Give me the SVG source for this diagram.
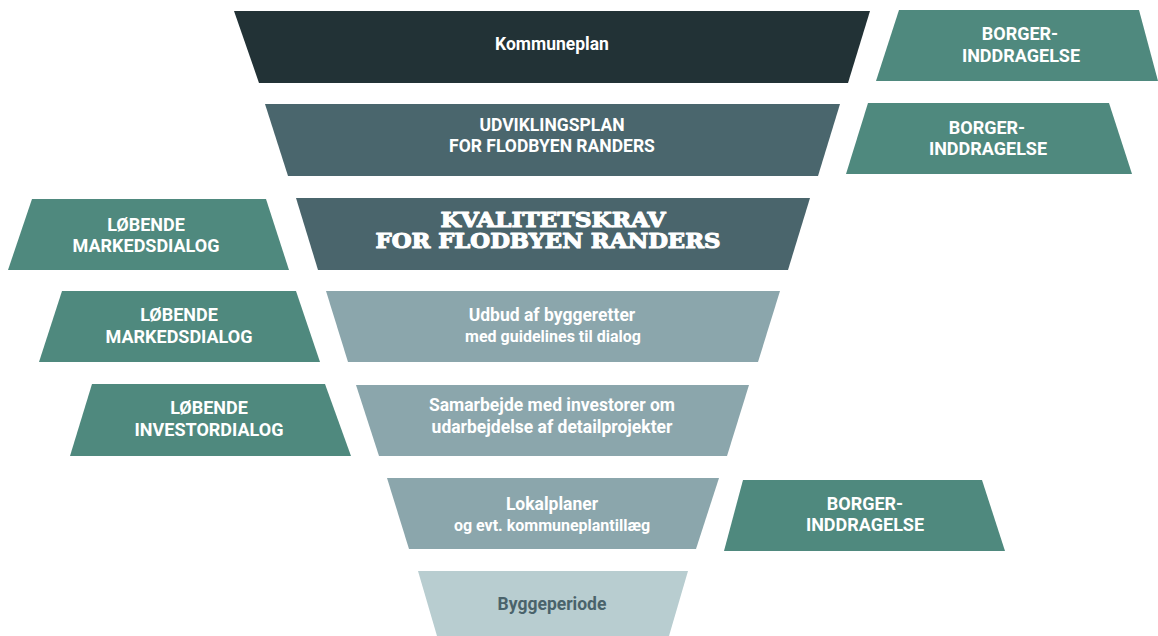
<svg xmlns="http://www.w3.org/2000/svg" width="1158" height="636" viewBox="0 0 1158 636">
<style>
.t{font-family:Roboto,"Liberation Sans",sans-serif;font-weight:bold;fill:#fff;text-anchor:middle;font-size:17.5px}
.s{font-size:16px}
.gl{font-size:18px}
.slab{font-family:"DejaVu Serif","Liberation Serif",serif;font-weight:bold;fill:#fff;stroke:#fff;stroke-width:1.1px;stroke-linejoin:round;text-anchor:middle;font-size:19.5px}
.g{fill:#4f897e}
.m{fill:#8ba6ac}
</style>
<rect width="1158" height="636" fill="#fff"/>
<g id="kommuneplan"><polygon points="234,11 870,11 848,83 259,83" fill="#223236"/><text class="t" x="552" y="50">Kommuneplan</text></g>
<g id="udviklingsplan"><polygon points="265,104 840,104 818,176 288,176" fill="#4a666d"/><text class="t" x="552" y="131">UDVIKLINGSPLAN</text><text class="t" x="552" y="152">FOR FLODBYEN RANDERS</text></g>
<g id="kvalitetskrav"><polygon points="296,198 810,198 788,270 318,270" fill="#4a656c"/><text class="slab" x="553" y="227" textLength="225" lengthAdjust="spacingAndGlyphs">KVALITETSKRAV</text><text class="slab" x="548" y="248" textLength="345" lengthAdjust="spacingAndGlyphs">FOR FLODBYEN RANDERS</text></g>
<g id="udbud"><polygon points="326,291 780,291 758,362 348,362" class="m"/><text class="t" x="552" y="321">Udbud af byggeretter</text><text class="t s" x="553" y="342">med guidelines til dialog</text></g>
<g id="samarbejde"><polygon points="356,385 749,385 727,456 379,456" class="m"/><text class="t" x="552" y="411">Samarbejde med investorer om</text><text class="t" x="552" y="433">udarbejdelse af detailprojekter</text></g>
<g id="lokalplaner"><polygon points="387,478 719,478 696,549 409,549" class="m"/><text class="t" x="552" y="510">Lokalplaner</text><text class="t s" x="552" y="531">og evt. kommuneplantillæg</text></g>
<g id="byggeperiode"><polygon points="418,571 688,571 669,636 437,636" fill="#b8cdd0"/><text class="t" x="552" y="610" style="fill:#4a636b">Byggeperiode</text></g>
<g id="borger1"><polygon points="899,10 1139,10 1158,81 876,81" class="g"/><text class="t gl" x="1020" y="40">BORGER-</text><text class="t gl" x="1021" y="62">INDDRAGELSE</text></g>
<g id="borger2"><polygon points="868,103 1109,103 1132,174 846,174" class="g"/><text class="t gl" x="987" y="134">BORGER-</text><text class="t gl" x="988" y="155">INDDRAGELSE</text></g>
<g id="borger3"><polygon points="743,480 982,480 1005,551 724,551" class="g"/><text class="t gl" x="865" y="510">BORGER-</text><text class="t gl" x="865" y="531">INDDRAGELSE</text></g>
<g id="markedsdialog1"><polygon points="32,199 266,199 289,270 8,270" class="g"/><text class="t gl" x="146" y="231">LØBENDE</text><text class="t gl" x="146" y="252">MARKEDSDIALOG</text></g>
<g id="markedsdialog2"><polygon points="62,291 296,291 320,362 39,362" class="g"/><text class="t gl" x="179" y="321">LØBENDE</text><text class="t gl" x="179" y="343">MARKEDSDIALOG</text></g>
<g id="investordialog"><polygon points="92,384 325,384 351,456 70,456" class="g"/><text class="t gl" x="209" y="414">LØBENDE</text><text class="t gl" x="209" y="436">INVESTORDIALOG</text></g>
<g id="connectors"></g>
</svg>
